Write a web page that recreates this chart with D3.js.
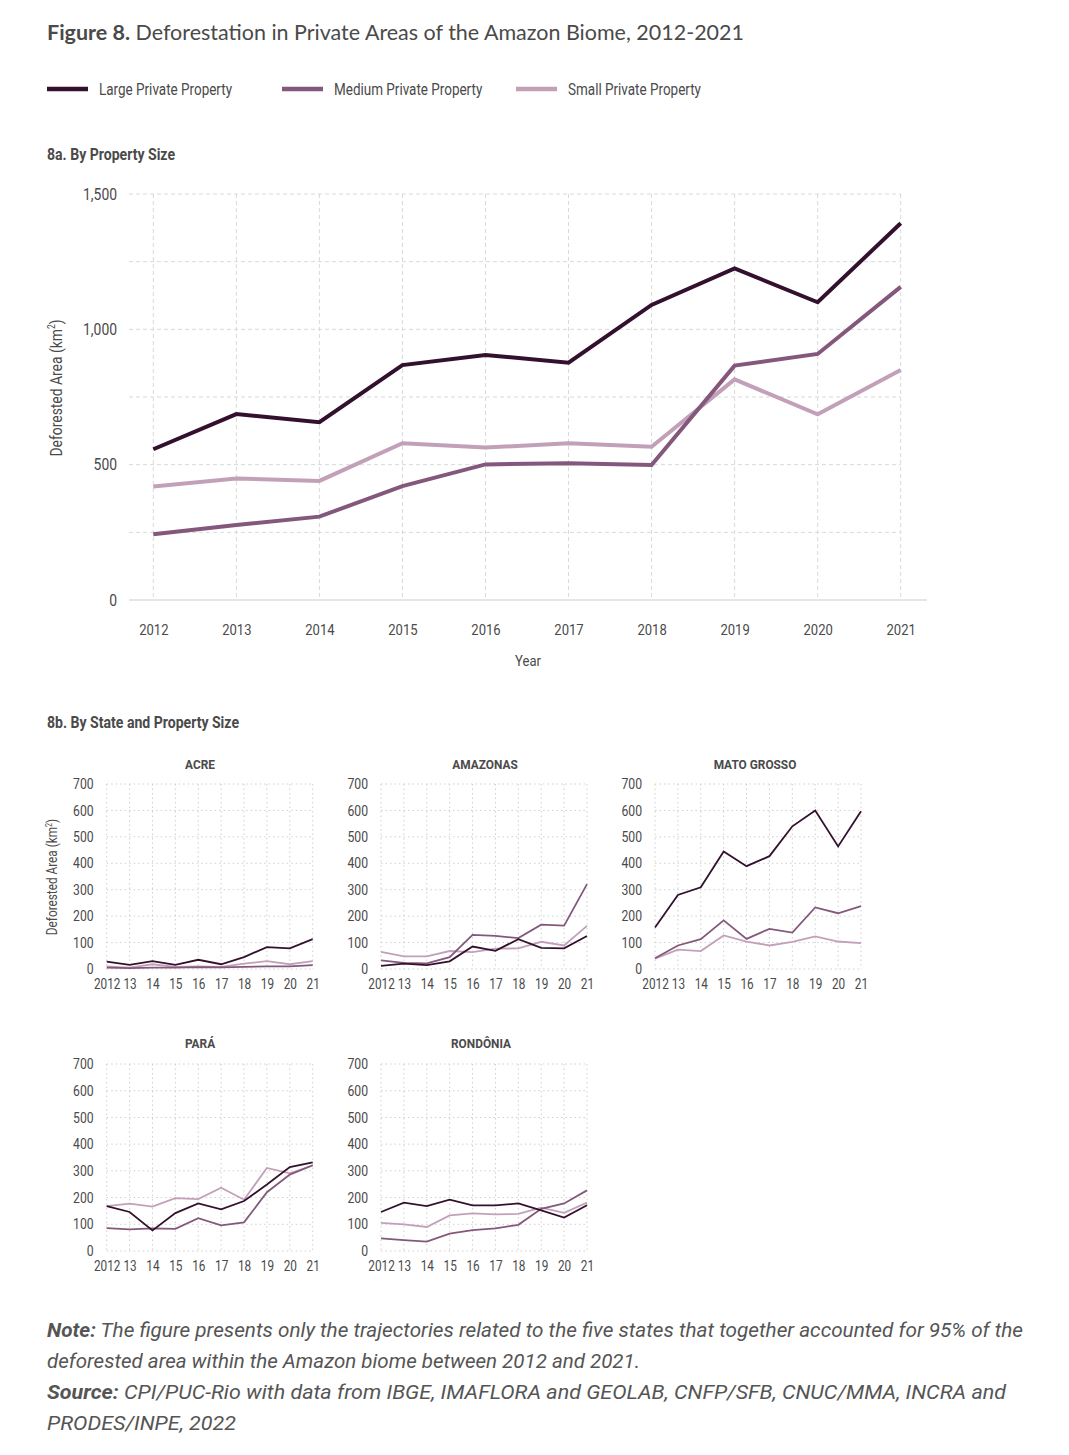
<!DOCTYPE html>
<html><head><meta charset="utf-8">
<script src="https://cdn.jsdelivr.net/npm/d3@7"></script>
<style>
body{margin:0;background:#fff;}
svg{display:block;}
</style></head>
<body>
<svg id="c" width="1069" height="1455"></svg>
<script>
// ---------- DATA ----------
const years = [2012,2013,2014,2015,2016,2017,2018,2019,2020,2021];
const seriesNames = ["Large Private Property","Medium Private Property","Small Private Property"];
const seriesColors = ["#33112e","#84587c","#c2a1b8"];
const mainTicks = [0,500,1000,1500];
const mainLarge  = [557,687,657,868,905,877,1090,1225,1100,1392];
const mainMedium = [243,277,308,421,501,505,499,866,909,1157];
const mainSmall  = [419,449,440,579,563,579,566,815,686,850];

const stateNames = ["ACRE","AMAZONAS","MATO GROSSO","PARÁ","RONDÔNIA"];
const smallTickLabels = ["2012","13","14","15","16","17","18","19","20","21"];
const smallYTicks = [0,100,200,300,400,500,600,700];
const acreLarge  = [28,16,30,16,35,18,45,83,78,113];
const acreMedium = [5,3,5,5,7,6,8,10,10,15];
const acreSmall  = [10,5,18,8,10,8,20,30,18,30];
const amazLarge  = [12,20,15,29,85,69,113,80,78,125];
const amazMedium = [33,23,21,45,129,125,117,168,164,321];
const amazSmall  = [65,48,48,68,64,77,78,103,89,163];
const mtLarge    = [157,280,309,445,389,427,540,600,464,597];
const mtMedium   = [41,89,113,184,114,152,138,233,211,238];
const mtSmall    = [39,73,68,127,104,89,103,123,104,98];
const paLarge    = [168,146,77,142,178,156,187,249,314,332];
const paMedium   = [86,81,85,83,123,96,107,220,286,321];
const paSmall    = [168,177,166,198,194,237,192,311,291,320];
const roLarge    = [146,181,168,192,171,171,178,152,125,171];
const roMedium   = [47,41,35,65,78,85,98,158,178,227];
const roSmall    = [105,100,90,133,141,137,139,162,143,181];

const stateData = [
  [acreLarge, acreMedium, acreSmall],
  [amazLarge, amazMedium, amazSmall],
  [mtLarge, mtMedium, mtSmall],
  [paLarge, paMedium, paSmall],
  [roLarge, roMedium, roSmall]
];

// ---------- DRAW ----------
const svg = d3.select("#c");
const txt = "#4a4a4a";
const COND = 'Roboto, sans-serif';

function measure(str, size, weight){
  const t = svg.append("text").attr("font-family",COND).attr("font-size",size)
    .attr("font-weight",weight||"normal").text(str);
  const w = t.node().getComputedTextLength(); t.remove(); return w;
}
const fReg  = 133 / measure("Large Private Property",16);
const fBold = 128 / measure("8a. By Property Size",16,"bold");

// Title
const title = svg.append("text").attr("x",47).attr("y",40)
  .attr("font-family","Lato, 'Open Sans', sans-serif").attr("font-size",20.5).attr("fill",txt)
  .attr("textLength",697).attr("lengthAdjust","spacingAndGlyphs");
title.append("tspan").attr("font-weight","bold").text("Figure 8.");
title.append("tspan").text(" Deforestation in Private Areas of the Amazon Biome, 2012-2021");

// Legend
const legX = [47,282,516];
seriesNames.forEach((n,i)=>{
  svg.append("line").attr("x1",legX[i]).attr("x2",legX[i]+41).attr("y1",89).attr("y2",89)
    .attr("stroke",seriesColors[i]).attr("stroke-width",4.5);
  svg.append("text").attr("class","cn").attr("x",legX[i]+52).attr("y",95).attr("font-family",COND)
    .attr("font-size",16).attr("fill",txt).text(n);
});

// Section headings
svg.append("text").attr("class","cb").attr("x",47).attr("y",160).attr("font-family",COND).attr("font-weight","bold")
  .attr("font-size",16).attr("fill",txt).text("8a. By Property Size");
svg.append("text").attr("class","cb").attr("x",47).attr("y",728).attr("font-family",COND).attr("font-weight","bold")
  .attr("font-size",16).attr("fill",txt).text("8b. By State and Property Size");

// ---------- MAIN CHART ----------
const mx = d3.scaleLinear().domain([2012,2021]).range([153.3,900.7]);
const my = d3.scaleLinear().domain([0,1500]).range([600,194]);
const g = svg.append("g");

g.selectAll(".hg").data(d3.range(250,1501,250)).join("line")
  .attr("x1",129).attr("x2",mx(2021)).attr("y1",d=>my(d)).attr("y2",d=>my(d))
  .attr("stroke","#d9d9d9").attr("stroke-width",1).attr("stroke-dasharray","4,3");
g.selectAll(".vg").data(years).join("line")
  .attr("x1",d=>mx(d)).attr("x2",d=>mx(d)).attr("y1",my(1500)).attr("y2",my(0))
  .attr("stroke","#d9d9d9").attr("stroke-width",1).attr("stroke-dasharray","4,3");
g.append("line").attr("x1",129).attr("x2",927).attr("y1",my(0)).attr("y2",my(0))
  .attr("stroke","#dcdcdc").attr("stroke-width",1.5);

const yAxis = d3.axisLeft(my).tickValues(mainTicks).tickSize(0).tickPadding(0)
  .tickFormat(d3.format(","));
const ya = g.append("g").attr("transform","translate(117,0)").call(yAxis);
ya.select(".domain").remove();
ya.selectAll("text").attr("class","cn").attr("font-family",COND).attr("font-size",16.5).attr("fill",txt);

const xAxis = d3.axisBottom(mx).tickValues(years).tickSize(0).tickPadding(0).tickFormat(d3.format("d"));
const xa = g.append("g").attr("transform","translate(0,624)").call(xAxis);
xa.select(".domain").remove();
xa.selectAll("text").attr("class","cn").attr("font-family",COND).attr("font-size",15.5).attr("fill",txt);

g.append("text").attr("class","cn").attr("x",528).attr("y",666).attr("text-anchor","middle").attr("font-family",COND)
  .attr("font-size",15.5).attr("fill",txt).text("Year");
const yl = g.append("text").attr("class","cn").attr("transform","translate(62,388) rotate(-90)").attr("text-anchor","middle")
  .attr("font-family",COND).attr("font-size",16.5).attr("fill",txt);
yl.append("tspan").text("Deforested Area (km");
yl.append("tspan").attr("font-size",10).attr("dy",-7).text("2");
yl.append("tspan").attr("dy",7).text(")");

const line = d3.line().x((d,i)=>mx(years[i])).y(d=>my(d));
[2,1,0].forEach(idx=>{
  const s = [mainLarge, mainMedium, mainSmall][idx];
  g.append("path").attr("d",line(s)).attr("fill","none").attr("stroke",seriesColors[idx])
    .attr("stroke-width",4).attr("stroke-linejoin","miter");
});

// ---------- SMALL MULTIPLES ----------
const panels = [
  {x0:106.7, x1:312.7, y0:969, y1:784, ty:769, tx:200},
  {x0:381, x1:587, y0:969, y1:784, ty:769, tx:485},
  {x0:655, x1:861, y0:969, y1:784, ty:769, tx:755},
  {x0:106.7, x1:312.7, y0:1251, y1:1064, ty:1048, tx:200},
  {x0:381, x1:587, y0:1251, y1:1064, ty:1048, tx:481}
];
stateNames.forEach((name,pi)=>{
  const p = panels[pi];
  const sx = d3.scaleLinear().domain([2012,2021]).range([p.x0,p.x1]);
  const sy = d3.scaleLinear().domain([0,700]).range([p.y0,p.y1]);
  const pg = svg.append("g");
  pg.selectAll(".h").data(smallYTicks).join("line")
    .attr("x1",p.x0).attr("x2",p.x1).attr("y1",d=>sy(d)).attr("y2",d=>sy(d))
    .attr("stroke","#cfcfcf").attr("stroke-width",1).attr("stroke-dasharray","1.5,3");
  pg.selectAll(".v").data(years).join("line")
    .attr("x1",d=>sx(d)).attr("x2",d=>sx(d)).attr("y1",sy(700)).attr("y2",sy(0))
    .attr("stroke","#cfcfcf").attr("stroke-width",1).attr("stroke-dasharray","1.5,3");
  const ay = pg.append("g").attr("transform",`translate(${p.x0-13},0)`)
    .call(d3.axisLeft(sy).tickValues(smallYTicks).tickSize(0).tickPadding(0));
  ay.select(".domain").remove();
  ay.selectAll("text").attr("class","cn").attr("font-family",COND).attr("font-size",14.5).attr("fill",txt);
  const ax = pg.append("g").attr("transform",`translate(0,${p.y0+10})`)
    .call(d3.axisBottom(sx).tickValues(years).tickSize(0).tickPadding(0)
      .tickFormat((d,i)=>smallTickLabels[i]));
  ax.select(".domain").remove();
  ax.selectAll("text").attr("class","cn").attr("font-family",COND).attr("font-size",14).attr("fill",txt);
  pg.append("text").attr("class","cb").attr("x",p.tx).attr("y",p.ty).attr("text-anchor","middle")
    .attr("font-family",COND).attr("font-weight","bold").attr("font-size",13.5).attr("fill",txt).text(name);
  const sl = d3.line().x((d,i)=>sx(years[i])).y(d=>sy(d));
  [2,1,0].forEach(k=>{
    pg.append("path").attr("d",sl(stateData[pi][k])).attr("fill","none")
      .attr("stroke",seriesColors[k]).attr("stroke-width",1.8);
  });
});
const syl = svg.append("text").attr("class","cn").attr("transform","translate(57,877) rotate(-90)").attr("text-anchor","middle")
  .attr("font-family",COND).attr("font-size",14).attr("fill",txt);
syl.append("tspan").text("Deforested Area (km");
syl.append("tspan").attr("font-size",8.5).attr("dy",-5).text("2");
syl.append("tspan").attr("dy",5).text(")");

// ---------- NOTES ----------
const noteLines = [
  [["Note:",true]," The figure presents only the trajectories related to the five states that together accounted for 95% of the"],
  ["deforested area within the Amazon biome between 2012 and 2021."],
  [["Source:",true]," CPI/PUC-Rio with data from IBGE, IMAFLORA and GEOLAB, CNFP/SFB, CNUC/MMA, INCRA and"],
  ["PRODES/INPE, 2022"]
];
const noteWidths = [976, 593, 959, 189];
noteLines.forEach((parts,li)=>{
  const t = svg.append("text").attr("x",47).attr("y",1337+li*31).attr("font-family",COND)
    .attr("font-size",20).attr("font-style","italic").attr("fill","#555")
    .attr("textLength",noteWidths[li]).attr("lengthAdjust","spacingAndGlyphs");
  parts.forEach(pt=>{
    if(Array.isArray(pt)) t.append("tspan").attr("font-weight","bold").text(pt[0]);
    else t.append("tspan").text(pt);
  });
});

svg.selectAll("text.cn").each(function(){
  const w = this.getComputedTextLength();
  d3.select(this).attr("textLength", w*fReg).attr("lengthAdjust","spacingAndGlyphs");
});
svg.selectAll("text.cb").each(function(){
  const w = this.getComputedTextLength();
  d3.select(this).attr("textLength", w*fBold).attr("lengthAdjust","spacingAndGlyphs");
});
</script>
</body></html>
